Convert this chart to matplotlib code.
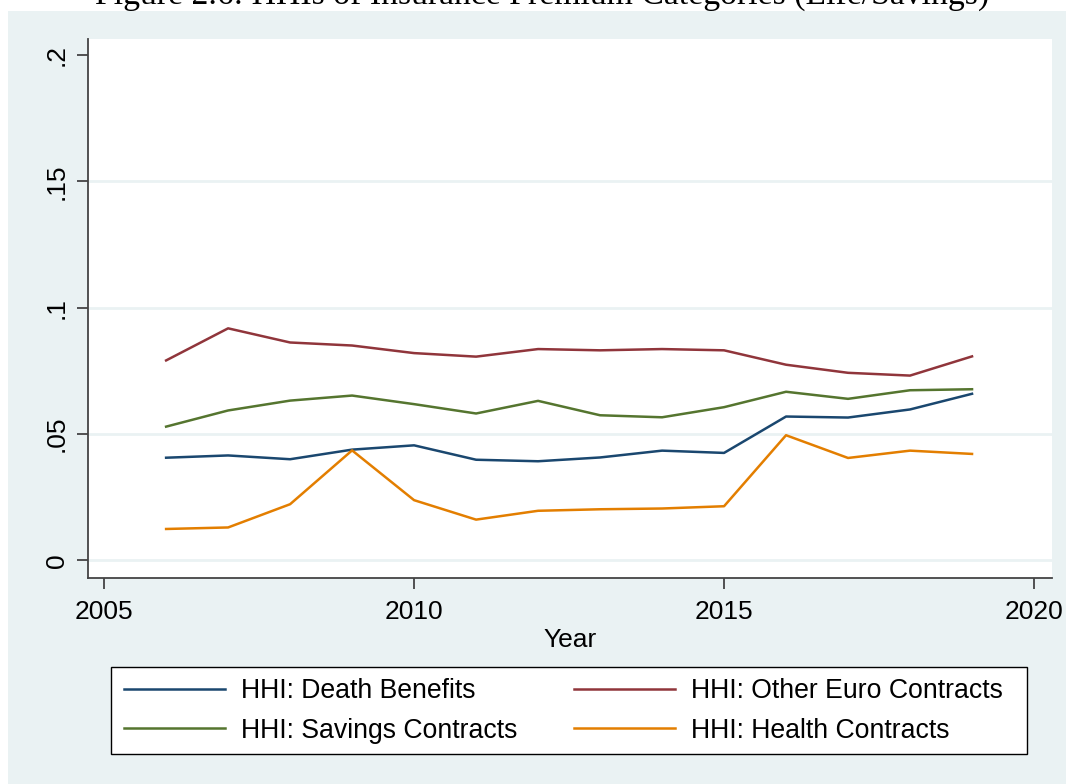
import matplotlib
matplotlib.use("Agg")
import matplotlib.pyplot as plt
from matplotlib.patches import Rectangle

years = [2006, 2007, 2008, 2009, 2010, 2011, 2012, 2013, 2014, 2015, 2016, 2017, 2018, 2019]
death_benefits = [0.0406, 0.0415, 0.0400, 0.0438, 0.0455, 0.0398, 0.0392, 0.0407, 0.0434, 0.0425, 0.0569, 0.0565, 0.0597, 0.0659]
other_euro = [0.0791, 0.0918, 0.0862, 0.0850, 0.0820, 0.0806, 0.0836, 0.0831, 0.0836, 0.0831, 0.0774, 0.0742, 0.0731, 0.0807]
savings = [0.0529, 0.0593, 0.0632, 0.0652, 0.0618, 0.0581, 0.0631, 0.0574, 0.0566, 0.0606, 0.0667, 0.0639, 0.0673, 0.0677]
health = [0.0124, 0.0130, 0.0222, 0.0435, 0.0238, 0.0161, 0.0196, 0.0202, 0.0205, 0.0214, 0.0495, 0.0405, 0.0434, 0.0421]

x_ticks = [2005, 2010, 2015, 2020]
y_ticks = [0, 0.05, 0.1, 0.15, 0.2]
y_tick_labels = ["0", ".05", ".1", ".15", ".2"]
labels = ["HHI: Death Benefits", "HHI: Savings Contracts", "HHI: Other Euro Contracts", "HHI: Health Contracts"]
title = "Figure 2.6: HHIs of Insurance Premium Categories (Life/Savings)"

plt.rcParams['font.family'] = ['Liberation Sans', 'DejaVu Sans']

W, H = 1066, 784
fig = plt.figure(figsize=(W / 100, H / 100), dpi=100, facecolor='white')
bg = '#eaf2f3'
fig.patches.append(Rectangle((8 / W, 0), 1 - 8 / W, 1 - 11 / H, transform=fig.transFigure,
                             facecolor=bg, edgecolor='none', zorder=-10))
fig.patches.append(Rectangle((111 / W, 1 - 754 / H), (1027 - 111) / W, (754 - 667) / H,
                             transform=fig.transFigure, facecolor='white',
                             edgecolor='black', linewidth=1.0, zorder=-1))

fig.text(542 / W, 1 - 4 / H, title, ha='center', va='baseline', fontsize=24.3,
         family='Liberation Serif', color='black', zorder=-5)

ax = fig.add_axes([88 / W, 1 - 578 / H, (1052 - 88) / W, (578 - 39) / H])
ax.set_facecolor('white')
ax.set_xlim(2004.74, 2020.29)
ax.set_ylim(-0.0070, 0.2063)

for yv in y_ticks[:-1]:
    ax.axhline(yv, color=bg, lw=2, zorder=1)

c_navy = '#1a476f'
c_maroon = '#90353b'
c_green = '#55752f'
c_orange = '#e37e00'
l1, = ax.plot(years, death_benefits, color=c_navy, lw=1.8, zorder=3)
l2, = ax.plot(years, savings, color=c_green, lw=1.8, zorder=3)
l3, = ax.plot(years, other_euro, color=c_maroon, lw=1.8, zorder=3)
l4, = ax.plot(years, health, color=c_orange, lw=1.8, zorder=3)

for s in ['top', 'right']:
    ax.spines[s].set_visible(False)
for s in ['left', 'bottom']:
    ax.spines[s].set_color('#444444')
    ax.spines[s].set_linewidth(1.3)

ax.set_xticks(x_ticks)
ax.set_xticklabels([str(v) for v in x_ticks], fontsize=19)
ax.set_yticks(y_ticks)
ax.set_yticklabels(y_tick_labels, fontsize=19, rotation=90, va='center')
ax.tick_params(axis='x', direction='out', length=8, width=1.3, color='#444444', pad=8)
ax.tick_params(axis='y', direction='out', length=8, width=1.3, color='#444444', pad=6)
ax.set_xlabel("Year", fontsize=19, labelpad=3)

leg = fig.legend([l1, l2, l3, l4], labels, ncol=2, loc='center left',
                 bbox_to_anchor=(124 / W, 1 - 711 / H),
                 fontsize=19.2, frameon=False,
                 handlelength=3.8, handletextpad=0.6, borderpad=0, labelspacing=0.5,
                 columnspacing=2.1, borderaxespad=0)

fig.savefig('out.png', dpi=100, facecolor='white')
